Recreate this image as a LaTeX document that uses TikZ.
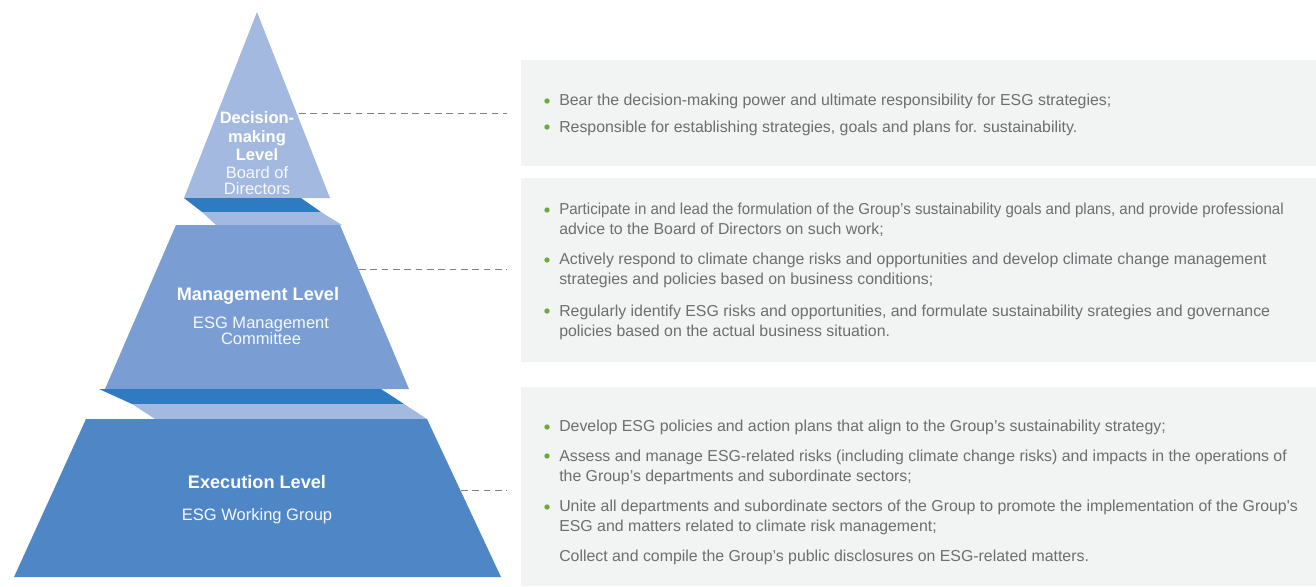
\documentclass[tikz,border=0pt]{standalone}
\usepackage{fontspec}
\setmainfont{Liberation Sans}
\usepackage{xcolor}
\usetikzlibrary{positioning}
\definecolor{tier-top}{RGB}{164,185,224}
\definecolor{tier-mid}{RGB}{122,158,211}
\definecolor{tier-bot}{RGB}{78,134,198}
\definecolor{band-dark}{RGB}{46,123,193}
\definecolor{panel-gray}{RGB}{242,243,243}
\definecolor{body-gray}{RGB}{110,110,112}
\definecolor{bullet-green}{RGB}{107,170,60}
\definecolor{dash-gray}{RGB}{128,128,128}
\tikzset{
  bodytext/.style={text=body-gray, font=\fontsize{11.9}{15}\selectfont,
    inner sep=0pt, anchor=base west, align=left},
  tiertitle/.style={text=white, font=\bfseries\fontsize{13.6}{14}\selectfont,
    align=center, inner sep=0pt},
  toptitle/.style={tiertitle, font=\bfseries\fontsize{12.4}{13.9}\selectfont},
  tiersub/.style={text=white!90!tier-top, font=\fontsize{12.4}{12}\selectfont,
    align=center, inner sep=0pt},
  leader/.style={dash-gray, dashed, dash pattern=on 5pt off 3.5pt, line width=0.6pt}
}

\begin{document}
\begin{tikzpicture}[x=0.75pt,y=-0.75pt]
    \useasboundingbox (0,0) rectangle (1316,586);

    % grey panels
    \fill[panel-gray] (521,60) rectangle (1316,166);
    \fill[panel-gray] (521,178) rectangle (1316,362);
    \fill[panel-gray] (521,387) rectangle (1316,586);

    % pyramid tiers
    \coordinate (apex) at (257,12);
    \fill[tier-top] (apex) -- (330,198) -- (184,198) -- cycle;
    \fill[band-dark] (184,198) -- (301,198) -- (321,212) -- (202,212) -- cycle;
    \fill[tier-top] (202,212) -- (321,212) -- (342,225) -- (216,225) -- cycle;
    \fill[tier-mid] (176,225) -- (340,225) -- (409,389) -- (105,389) -- cycle;
    \fill[band-dark] (99,389) -- (381,389) -- (404,404) -- (132,404) -- cycle;
    \fill[tier-top] (132,404) -- (404,404) -- (427,419) -- (155,419) -- cycle;
    \fill[tier-bot] (86,419) -- (427,419) -- (501,577) -- (14,577) -- cycle;

    % tier labels
    \node[toptitle] (dm-title) at (257,136.5) {Decision-\\making\\Level};
    \node[tiersub] (dm-sub) at (257,181) {Board of\\Directors};
    \node[tiertitle] (mg-title) at (258,296) {Management Level};
    \node[tiersub] (mg-sub) at (261,331) {ESG Management\\Committee};
    \node[tiertitle] (ex-title) at (257,482) {Execution Level};
    \node[tiersub] (ex-sub) at (257,516) {ESG Working Group};

    % leaders
    \coordinate (dm-edge) at (299,113);
    \coordinate (dm-end) at (507,113);
    \coordinate (mg-edge) at (359,269);
    \coordinate (mg-end) at (507,269);
    \coordinate (ex-edge) at (461,490);
    \coordinate (ex-end) at (507,490);
    \draw[leader] (dm-edge) -- (dm-end);
    \draw[leader] (mg-edge) -- (mg-end);
    \draw[leader] (ex-edge) -- (ex-end);

    % duties (base = last line)
    \node[bodytext] (dm-1) at (559,105) {Bear the decision-making power and ultimate responsibility for ESG strategies;};
    \node[bodytext] (dm-2) at (559,132) {Responsible for establishing strategies, goals and plans for. sustainability.};

    \node[bodytext] (mg-1) at (559,234) {\scalebox{0.95}[1]{Participate in and lead the formulation of the Group’s sustainability goals and plans, and provide professional}\\advice to the Board of Directors on such work;};
    \node[bodytext] (mg-2) at (559,284) {Actively respond to climate change risks and opportunities and develop climate change management\\strategies and policies based on business conditions;};
    \node[bodytext] (mg-3) at (559,336) {Regularly identify ESG risks and opportunities, and formulate sustainability srategies and governance\\policies based on the actual business situation.};

    \node[bodytext] (ex-1) at (559,431) {Develop ESG policies and action plans that align to the Group’s sustainability strategy;};
    \node[bodytext] (ex-2) at (559,481) {Assess and manage ESG-related risks (including climate change risks) and impacts in the operations of\\the Group’s departments and subordinate sectors;};
    \node[bodytext] (ex-3) at (559,531) {Unite all departments and subordinate sectors of the Group to promote the implementation of the Group\textquotesingle s\\ESG and matters related to climate risk management;};
    \node[bodytext] (ex-4) at (559,561) {Collect and compile the Group’s public disclosures on ESG-related matters.};

    % bullets
    \foreach \y in {101,127,210,260,311,427,456,507}
        \fill[bullet-green] (547,\y) circle (2pt);
\end{tikzpicture}
\end{document}
